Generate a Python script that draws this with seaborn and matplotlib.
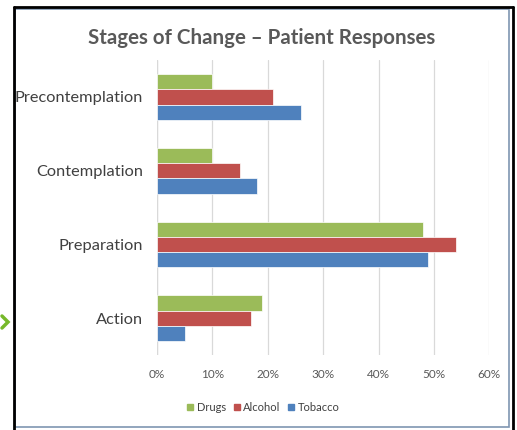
import pandas as pd
import matplotlib
matplotlib.use('Agg')
import matplotlib.pyplot as plt
import seaborn as sns
from matplotlib.patches import Rectangle
from matplotlib.lines import Line2D

# Values (percent of patients)
stages = ['Precontemplation', 'Contemplation', 'Preparation', 'Action']
substances = ['Drugs', 'Alcohol', 'Tobacco']
drugs = [10, 10, 48, 19]
alcohol = [21, 15, 54, 17]
tobacco = [26, 18, 49, 5]
x_ticks = [0, 10, 20, 30, 40, 50, 60]
colors = ['#9BBB59', '#C0504D', '#4F81BD']

# Long format for seaborn
df = pd.DataFrame({
    'Stage': stages * 3,
    'Substance': ['Drugs'] * 4 + ['Alcohol'] * 4 + ['Tobacco'] * 4,
    'Percent': drugs + alcohol + tobacco,
})

sns.set_style('white')
plt.rcParams['font.family'] = ['Lato', 'DejaVu Sans']

fig = plt.figure(figsize=(5.17, 4.3), dpi=100)
ax = fig.add_axes([0.3037, 0.1744, 0.6427, 0.686])

sns.barplot(data=df, x='Percent', y='Stage', hue='Substance', order=stages,
            hue_order=substances, palette=colors, saturation=1, orient='h',
            width=0.62, edgecolor='white', linewidth=0.5, ax=ax)

# Axis styling, Excel look
ax.set_xlim(0, 60)
ax.set_xticks(x_ticks)
ax.set_xticklabels([f'{t}%' for t in x_ticks], color='#595959', fontsize=8.5)
ax.tick_params(axis='x', length=0, pad=10)
ax.tick_params(axis='y', length=0, pad=10)
for lbl in ax.get_yticklabels():
    lbl.set_fontsize(11.8)
    lbl.set_color('#404040')
ax.set_xlabel('')
ax.set_ylabel('')
ax.xaxis.grid(True, color='#D9D9D9', linewidth=0.9)
ax.set_axisbelow(True)
for s in ax.spines.values():
    s.set_visible(False)
ax.axvline(0, color='#D9D9D9', linewidth=0.9, zorder=0)

# Title
fig.text(0.507, 0.912, 'Stages of Change \u2013 Patient Responses', ha='center', va='center',
         fontsize=14.8, fontweight='bold', color='#595959')

# Legend at bottom
ax.get_legend().remove()
handles = [Line2D([], [], marker='s', linestyle='', markersize=5, color=c) for c in colors]
fig.legend(handles, substances, loc='center', bbox_to_anchor=(0.507, 0.052), ncol=3,
           frameon=False, fontsize=8, handletextpad=0.05, columnspacing=0.5,
           handlelength=1.0, labelcolor='#404040')

# Frame around the chart
W, H = 517, 430
fig.add_artist(Rectangle((15 / W, 3 / H), 494 / W, 418 / H, transform=fig.transFigure,
                         fill=False, edgecolor='#7F96B2', linewidth=1.2))
fig.add_artist(Line2D([14 / W, 14 / W], [0, 423 / H], transform=fig.transFigure,
                      color='black', linewidth=2))
fig.add_artist(Line2D([14 / W, 513 / W], [423 / H, 423 / H], transform=fig.transFigure,
                      color='black', linewidth=2))
fig.add_artist(Line2D([513 / W, 513 / W], [0, 423 / H], transform=fig.transFigure,
                      color='black', linewidth=2))

# Small green chevron at the left edge
fig.add_artist(Line2D([2 / W, 8 / W, 2 / W], [1 - 316 / H, 1 - 322 / H, 1 - 328 / H],
                      transform=fig.transFigure, color='#76B82A', linewidth=2.5,
                      solid_joinstyle='miter'))

fig.savefig('out.png', dpi=100)
